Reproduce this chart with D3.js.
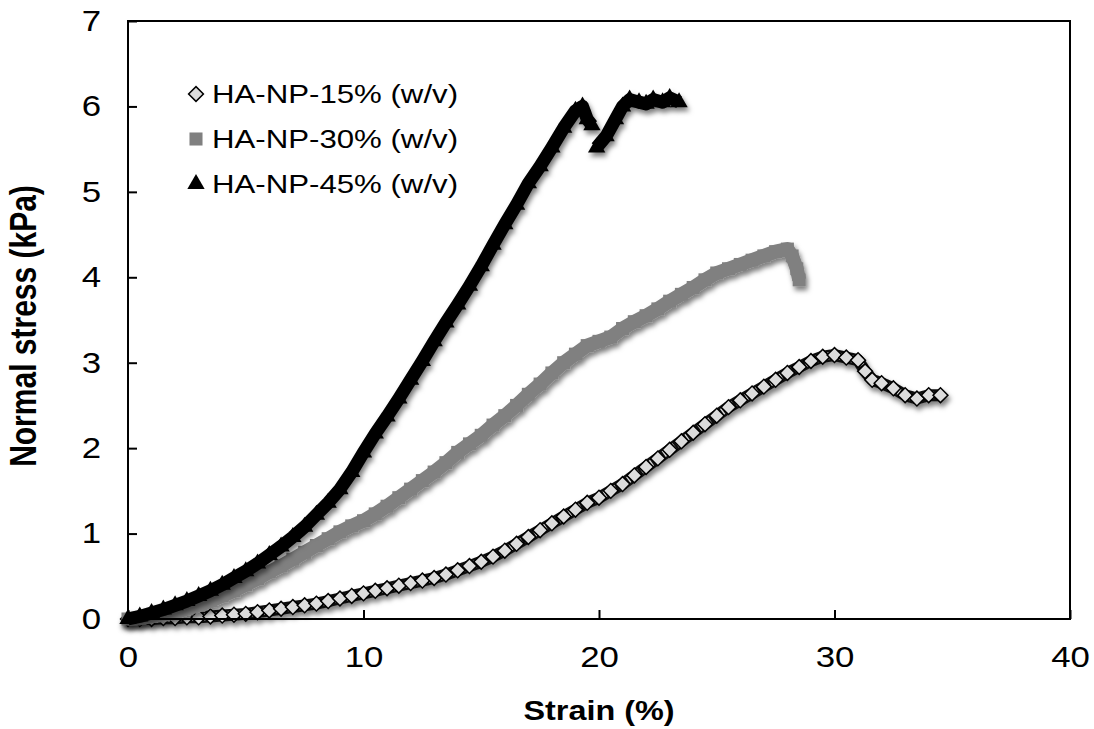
<!DOCTYPE html>
<html><head><meta charset="utf-8">
<script src="https://cdn.jsdelivr.net/npm/d3@7.9.0/dist/d3.min.js"></script>
<style>body{margin:0;background:#fff}svg{font-family:Arial,"Liberation Sans",sans-serif;display:block}</style>
</head><body><svg width="1094" height="729"></svg>
<script>
// values
const strain15=[0,0.5,1,1.5,2,2.5,3,3.5,4,4.5,5,5.5,6,6.5,7,7.5,8,8.5,9,9.5,10,10.5,11,11.5,12,12.5,13,13.5,14,14.5,15,15.5,16,16.5,17,17.5,18,18.5,19,19.5,20,20.5,21,21.5,22,22.5,23,23.5,24,24.5,25,25.5,26,26.5,27,27.5,28,28.5,29,29.5,30,30.5,31,31.3,31.6,32,32.5,33,33.5,34,34.5];
const stress15=[0,0,0,0.01,0.01,0.02,0.02,0.03,0.04,0.05,0.06,0.08,0.1,0.12,0.14,0.16,0.18,0.21,0.24,0.27,0.3,0.33,0.36,0.39,0.42,0.45,0.48,0.52,0.57,0.62,0.67,0.73,0.8,0.88,0.96,1.04,1.12,1.2,1.28,1.36,1.42,1.5,1.58,1.68,1.78,1.88,1.98,2.08,2.18,2.28,2.38,2.48,2.56,2.64,2.72,2.8,2.88,2.95,3.02,3.07,3.09,3.06,3.03,2.9,2.8,2.76,2.7,2.62,2.58,2.62,2.62];
const strain30=[0,0.5,1,1.5,2,2.5,3,3.5,4,4.5,5,5.5,6,6.5,7,7.5,8,8.5,9,9.5,10,10.5,11,11.5,12,12.5,13,13.5,14,14.5,15,15.5,16,16.5,17,17.5,18,18.5,19,19.5,20,20.5,21,21.5,22,22.5,23,23.5,24,24.5,25,25.5,26,26.5,27,27.5,28,28.2,28.4,28.5];
const stress30=[0,0.01,0.03,0.05,0.08,0.12,0.16,0.21,0.27,0.33,0.4,0.47,0.55,0.62,0.7,0.78,0.86,0.94,1.02,1.09,1.15,1.23,1.32,1.42,1.52,1.62,1.72,1.83,1.95,2.05,2.15,2.27,2.38,2.5,2.63,2.75,2.88,3,3.1,3.2,3.25,3.3,3.4,3.48,3.55,3.63,3.72,3.8,3.88,3.97,4.05,4.1,4.15,4.2,4.25,4.3,4.33,4.25,4.1,3.97];
const strain45=[0,0.5,1,1.5,2,2.5,3,3.5,4,4.5,5,5.5,6,6.5,7,7.5,8,8.5,9,9.5,10,10.5,11,11.5,12,12.5,13,13.5,14,14.5,15,15.5,16,16.5,17,17.5,18,18.5,19,19.3,19.5,19.7,19.8,19.9,20.3,20.7,21,21.3,21.7,22,22.3,22.7,23,23.4];
const stress45=[0,0.03,0.07,0.11,0.16,0.21,0.27,0.33,0.4,0.48,0.56,0.65,0.75,0.85,0.96,1.08,1.22,1.36,1.52,1.72,1.95,2.17,2.37,2.58,2.8,3.02,3.25,3.47,3.68,3.9,4.13,4.38,4.62,4.85,5.1,5.3,5.52,5.75,5.95,6,5.85,5.78,null,5.52,5.65,5.85,6,6.08,6.05,6.03,6.08,6.05,6.1,6.05];
const seriesNames=["HA-NP-15% (w/v)","HA-NP-30% (w/v)","HA-NP-45% (w/v)"];
const xTicks=[0,10,20,30,40],yTicks=[0,1,2,3,4,5,6,7];

const svg=d3.select('svg'),L=128,R=1070,T=21,B=619,SX=1.2; // text in the picture is stretched sideways
const x=d3.scaleLinear().domain([0,40]).range([L,R]),y=d3.scaleLinear().domain([0,7]).range([B,T]);
const f=svg.append('defs').append('filter').attr('id','sh').attr('x','-20%').attr('y','-20%').attr('width','140%').attr('height','140%');
f.append('feDropShadow').attr('dx',2).attr('dy',4).attr('stdDeviation',2.5).attr('flood-color','#000').attr('flood-opacity',0.5);

const zip=(a,b)=>a.map((v,i)=>({x:v,y:b[i]}));
const series=[
 {name:seriesNames[0],data:zip(strain15,stress15),line:'#111',lw:12,stripe:true,sym:d3.symbolSquare,size:110,rot:45,fill:'#dcdcdc',stroke:'#000'},
 {name:seriesNames[1],data:zip(strain30,stress30),line:'#808080',lw:14,sym:d3.symbolSquare,size:170,rot:0,fill:'#808080',stroke:'none'},
 {name:seriesNames[2],data:zip(strain45,stress45),line:'#000',lw:13,sym:d3.symbolTriangle,size:130,rot:0,fill:'#000',stroke:'none'}];
const line=d3.line().defined(d=>d.y!=null).x(d=>x(d.x)).y(d=>y(d.y));

series.forEach(s=>{const g=svg.append('g').attr('filter','url(#sh)');
 g.append('path').attr('d',line(s.data)).attr('fill','none').attr('stroke',s.line).attr('stroke-width',s.lw).attr('stroke-linejoin','round');
 if(s.stripe)g.append('path').attr('d',line(s.data)).attr('fill','none').attr('stroke','#d8d8d8').attr('stroke-width',7).attr('stroke-dasharray','1.5,2.5');
 g.selectAll('path.m').data(s.data.filter(d=>d.y!=null)).enter().append('path').attr('class','m')
  .attr('d',d3.symbol(s.sym,s.size)).attr('transform',d=>`translate(${x(d.x)},${y(d.y)}) rotate(${s.rot})`)
  .attr('fill',s.fill).attr('stroke',s.stroke).attr('stroke-width',1.5);});

// frame and inward ticks
svg.append('rect').attr('x',L).attr('y',T).attr('width',R-L).attr('height',B-T).attr('fill','none').attr('stroke','#000').attr('stroke-width',2);
const ya=svg.append('g').attr('transform',`translate(${L},0)`).call(d3.axisLeft(y).tickValues(yTicks).tickFormat(d3.format('d')).tickSizeInner(-9).tickSizeOuter(0).tickPadding(27));
const xa=svg.append('g').attr('transform',`translate(0,${B})`).call(d3.axisBottom(x).tickValues(xTicks).tickFormat(d3.format('d')).tickSizeInner(-9).tickSizeOuter(0).tickPadding(27));
[ya,xa].forEach(a=>{a.select('.domain').remove();a.selectAll('line').attr('stroke','#000').attr('stroke-width',2);
 a.selectAll('text').attr('font-size',29).attr('fill','#000').attr('font-family','Arial,"Liberation Sans",sans-serif');});
// widen tick labels about their anchor
ya.selectAll('.tick text').attr('transform',`translate(-27,0) scale(${SX},1) translate(27,0)`);
xa.selectAll('.tick text').attr('transform',`scale(${SX},1)`);

svg.append('text').attr('transform',`translate(${(L+R)/2},720) scale(${SX},1)`).attr('text-anchor','middle').attr('font-size',27).attr('font-weight','bold').text('Strain (%)');
svg.append('text').attr('transform',`translate(36,326) scale(${SX},1) rotate(-90)`).attr('text-anchor','middle').attr('font-size',30).attr('font-weight','bold').text('Normal stress (kPa)');

// legend
const lg=svg.append('g');
series.forEach((s,i)=>{const cy=94+i*45;
 lg.append('path').attr('d',d3.symbol(s.sym,s.size)).attr('transform',`translate(196,${cy}) rotate(${s.rot})`).attr('fill',s.fill).attr('stroke',s.stroke).attr('stroke-width',1.5);
 lg.append('text').attr('transform',`translate(212,${cy+9}) scale(${SX},1)`).attr('font-size',26).text(s.name);});
</script></body></html>
